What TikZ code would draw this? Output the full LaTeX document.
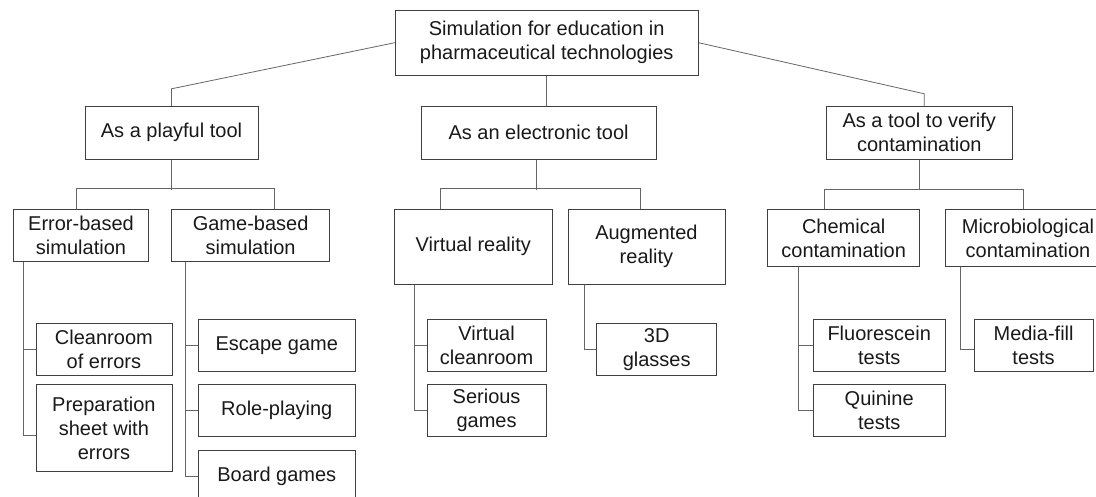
\documentclass[tikz,border=0pt]{standalone}
\usepackage{fontspec}
\setmainfont{Liberation Sans}
\begin{document}
\begin{tikzpicture}[
  x=1pt, y=-1pt,
  cell/.style 2 args={draw=black!75, line width=0.8pt, minimum width=#1, minimum height=#2, inner sep=0pt, align=center, font=\fontsize{20}{24}\selectfont, text=black!90},
  link/.style={draw=black!60, line width=0.8pt}
]
  \useasboundingbox (0,0) rectangle (1096,496);
  % top and first level
  \node[cell={303}{65}] (root) at (546.7,42.7) {Simulation for education in\\pharmaceutical technologies};
  \node[cell={173}{53}] (play) at (171.5,132.7) {As a playful tool};
  \node[cell={235}{53}] (elec) at (538.6,132.6) {As an electronic tool};
  \node[cell={186}{53}] (verif) at (919.3,132.7) {As a tool to verify\\contamination};
  % second level
  \node[cell={135}{52}] (err) at (81,235.2) {Error-based\\simulation};
  \node[cell={158}{52}] (game) at (250.6,235.2) {Game-based\\simulation};
  \node[cell={158}{75}] (vr) at (473.3,246.7) {Virtual reality};
  \node[cell={157}{75}] (ar) at (646.4,246.7) {Augmented\\reality};
  \node[cell={152}{57}] (chem) at (843.7,238) {Chemical\\contamination};
  \node[cell={166}{57}] (micro) at (1028,238) {Microbiological\\contamination};
  % leaves
  \node[cell={136}{52}] (clean) at (103.9,349.2) {Cleanroom\\of errors};
  \node[cell={136}{87}] (prep) at (103.9,428.3) {Preparation\\sheet with\\errors};
  \node[cell={157}{52}] (escape) at (276.8,345.2) {Escape game};
  \node[cell={157}{52}] (role) at (276.8,410.3) {Role-playing};
  \node[cell={157}{52}] (board) at (276.8,476) {Board games};
  \node[cell={119}{52}] (vcr) at (486.6,345.2) {Virtual\\cleanroom};
  \node[cell={119}{52}] (serious) at (486.6,410.3) {Serious\\games};
  \node[cell={120}{52}] (glasses) at (656.7,349.2) {3D\\glasses};
  \node[cell={132}{52}] (fluo) at (879.2,345.2) {Fluorescein\\tests};
  \node[cell={132}{52}] (quin) at (879.2,410.3) {Quinine\\tests};
  \node[cell={119}{52}] (media) at (1033.6,345.2) {Media-fill\\tests};
  % root to first level
  \draw[link] (root.west) -- ([yshift=17pt]play.north) -- (play.north);
  \draw[link] (root.south) -- (root.south |- elec.north);
  \draw[link] (root.east) -- ([xshift=5pt,yshift=12pt]verif.north) -- ([xshift=5pt]verif.north);
  % first level to second level
  \draw[link] (play.south) -- ++(0,30);
  \draw[link] ([xshift=-5pt]err.north) -- ++(0,-20) -| ([xshift=24pt]game.north);
  \draw[link] ([xshift=-2pt]elec.south) -- ++(0,30);
  \draw[link] ([xshift=-33pt]vr.north) -- ++(0,-20) -| ([xshift=-6pt]ar.north);
  \draw[link] (verif.south) -- ++(0,30);
  \draw[link] ([xshift=-19pt]chem.north) -- ++(0,-20) -| ([xshift=-5pt]micro.north);
  % second level to leaves
  \draw[link] ([xshift=10pt]err.south west) |- (clean.west);
  \draw[link] ([xshift=10pt]err.south west) |- ([yshift=-7pt]prep.west);
  \draw[link] ([xshift=14pt]game.south west) |- (escape.west);
  \draw[link] ([xshift=14pt]game.south west) |- (role.west);
  \draw[link] ([xshift=14pt]game.south west) |- (board.west);
  \draw[link] ([xshift=20pt]vr.south west) |- (vcr.west);
  \draw[link] ([xshift=20pt]vr.south west) |- (serious.west);
  \draw[link] ([xshift=17pt]ar.south west) |- (glasses.west);
  \draw[link] ([xshift=31pt]chem.south west) |- (fluo.west);
  \draw[link] ([xshift=31pt]chem.south west) |- (quin.west);
  \draw[link] ([xshift=16pt]micro.south west) |- ([yshift=-4pt]media.west);
\end{tikzpicture}
\end{document}
